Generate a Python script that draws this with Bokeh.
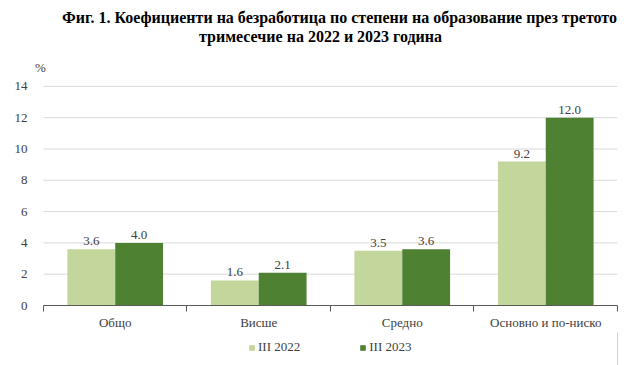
from bokeh.plotting import figure
from bokeh.layouts import column
from bokeh.models import (ColumnDataSource, FixedTicker, Range1d, Legend, LegendItem,
                          Label, LabelSet)
from bokeh.embed import file_html
from bokeh.resources import INLINE
from bokeh.core.properties import value

categories = ["Общо", "Висше", "Средно", "Основно и по-ниско"]
series_names = ["III 2022", "III 2023"]
values_2022 = [3.6, 1.6, 3.5, 9.2]
values_2023 = [4.0, 2.1, 3.6, 12.0]
y_ticks = [0, 2, 4, 6, 8, 10, 12, 14]
title_lines = ["Фиг. 1. Коефициенти на безработица по степени на образование през третото",
               "тримесечие на 2022 и 2023 година"]
y_max = 16.1

col_light = "#c3d69b"
col_dark = "#4f8132"
font = "Liberation Serif"
txt = "#404040"

n = len(categories)
centers = [i + 0.5 for i in range(n)]
bw = 1 / 3
x_pad = 9 / 144

src1 = ColumnDataSource(dict(x=[c - bw / 2 for c in centers], top=values_2022,
                             lab=[f"{v:.1f}" for v in values_2022]))
src2 = ColumnDataSource(dict(x=[c + bw / 2 for c in centers], top=values_2023,
                             lab=[f"{v:.1f}" for v in values_2023]))
grid_src = ColumnDataSource(dict(x0=[0] * len(y_ticks), x1=[n] * len(y_ticks),
                                 y=y_ticks))


def strip(h):
    f = figure(width=623, height=h, output_backend="svg", toolbar_location=None,
               x_range=Range1d(0, 1), y_range=Range1d(0, 1),
               x_axis_location=None, y_axis_location=None,
               min_border_left=34, min_border_right=6, min_border_top=0, min_border_bottom=0)
    f.outline_line_color = None
    f.xgrid.grid_line_color = None
    f.ygrid.grid_line_color = None
    return f


# title strip
p0 = strip(46)
p0.add_layout(Label(x=305, y=29, x_units="screen", y_units="screen", text=title_lines[0],
                    text_align="center", text_baseline="middle", text_font=font,
                    text_font_size="16px", text_font_style="bold", text_color="#000000"))
p0.add_layout(Label(x=286, y=10, x_units="screen", y_units="screen", text=title_lines[1],
                    text_align="center", text_baseline="middle", text_font=font,
                    text_font_size="16px", text_font_style="bold", text_color="#000000"))

# main chart
p = figure(width=623, height=286, output_backend="svg", toolbar_location=None,
           x_range=Range1d(-x_pad, n), y_range=Range1d(0, y_max),
           min_border_left=34, min_border_right=6, min_border_top=7, min_border_bottom=27)
p.outline_line_color = None
p.background_fill_color = "white"
p.border_fill_color = "white"

p.segment(x0="x0", x1="x1", y0="y", y1="y", source=grid_src,
          line_color="#d9d9d9", line_width=1)

r1 = p.vbar(x="x", top="top", width=bw, source=src1, fill_color=col_light, line_color=None)
r2 = p.vbar(x="x", top="top", width=bw, source=src2, fill_color=col_dark, line_color=None)

for s in (src1, src2):
    p.add_layout(LabelSet(x="x", y="top", text="lab", source=s, y_offset=4,
                          text_align="center", text_baseline="bottom",
                          text_font=value(font), text_font_size="13px", text_color=txt))

xt = FixedTicker(ticks=centers, minor_ticks=list(range(n + 1)))
p.xaxis.ticker = xt
p.xaxis.bounds = (0, n)
p.xaxis.major_label_overrides = {c: lab for c, lab in zip(centers, categories)}
p.xaxis.major_tick_line_color = None
p.xaxis.minor_tick_line_color = "#595959"
p.xaxis.minor_tick_out = 6
p.xaxis.minor_tick_in = 0
p.xaxis.axis_line_color = "#595959"
p.xaxis.major_label_text_font = font
p.xaxis.major_label_text_font_size = "13px"
p.xaxis.major_label_text_color = txt
p.xaxis.major_label_standoff = 3
p.xgrid.grid_line_color = None

p.yaxis.ticker = FixedTicker(ticks=y_ticks)
p.yaxis.axis_line_color = None
p.yaxis.major_tick_line_color = None
p.yaxis.minor_tick_line_color = None
p.yaxis.major_label_text_font = font
p.yaxis.major_label_text_font_size = "13px"
p.yaxis.major_label_text_color = txt
p.yaxis.major_label_standoff = 1
p.ygrid.grid_line_color = None

p.add_layout(Label(x=0, y=y_ticks[-1], text="%", x_offset=-3, y_offset=11,
                   text_align="center", text_baseline="bottom",
                   text_font=font, text_font_size="13px", text_color=txt))

# legend strip
p2 = strip(33)
l1 = p2.vbar(x=[5], top=[1], width=0.1, fill_color=col_light, line_color=None)
l2 = p2.vbar(x=[5], top=[1], width=0.1, fill_color=col_dark, line_color=None)
legend = Legend(items=[LegendItem(label=series_names[0], renderers=[l1]),
                       LegendItem(label=series_names[1], renderers=[l2])],
                orientation="horizontal", location=(214, 10),
                label_text_font=font, label_text_font_size="13px", label_text_color=txt,
                glyph_width=7, glyph_height=7, spacing=59, padding=0, margin=0,
                label_height=15, label_standoff=3,
                border_line_color=None, background_fill_alpha=0)
p2.add_layout(legend, "center")

open("out.html", "w").write(file_html(column(p0, p, p2, spacing=0), INLINE))
